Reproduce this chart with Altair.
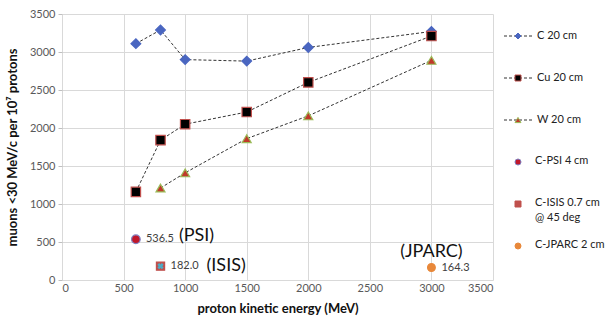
import altair as alt
import pandas as pd

# ---------------- data ----------------
energy_C = [600, 800, 1000, 1500, 2000, 3000]
muons_C = [3110, 3290, 2900, 2880, 3060, 3270]
energy_Cu = [600, 800, 1000, 1500, 2000, 3000]
muons_Cu = [1160, 1840, 2050, 2210, 2600, 3210]
energy_W = [800, 1000, 1500, 2000, 3000]
muons_W = [1210, 1410, 1860, 2160, 2890]

single_keys = ["C-PSI 4 cm", "C-ISIS", "C-JPARC 2 cm"]
single_energy = [600, 800, 3000]
single_muons = [536.5, 182.0, 164.3]
single_value_labels = ["536.5", "182.0", "164.3"]
single_site_labels = ["(PSI)", "(ISIS)", "(JPARC)"]

legend_keys = ["C 20 cm", "Cu 20 cm", "W 20 cm", "C-PSI 4 cm", "C-ISIS", "C-JPARC 2 cm"]
legend_texts = ["C 20 cm", "Cu 20 cm", "W 20 cm", "C-PSI 4 cm", "C-ISIS 0.7 cm\n@ 45 deg", "C-JPARC 2 cm"]
legend_has_line = [True, True, True, False, False, False]

x_ticks = [0, 500, 1000, 1500, 2000, 2500, 3000, 3500]
y_ticks = [0, 500, 1000, 1500, 2000, 2500, 3000, 3500]

# ---------------- styles ----------------
style_keys = legend_keys
style_shapes = ["diamond", "square", "triangle-up", "circle", "square", "circle"]
style_fills = ["#4a66c0", "#000000", "#c0392b", "#c0182a", "#c0504d", "#e8883a"]
style_strokes = ["#4a66c0", "#c0504d", "#9bbb59", "#8080c0", "#c0504d", "#e8883a"]
style_sizes = [95, 60, 80, 85, 70, 90]

FONT = "Lato"
W, H = 431, 266

rows = []
for name, xv, yv in [("C 20 cm", energy_C, muons_C), ("Cu 20 cm", energy_Cu, muons_Cu), ("W 20 cm", energy_W, muons_W)]:
    for a, b in zip(xv, yv):
        rows.append({"key": name, "energy": a, "muons": b})
series_df = pd.DataFrame(rows)
single_df = pd.DataFrame({"key": single_keys, "energy": single_energy, "muons": single_muons,
                          "vlabel": single_value_labels, "site": single_site_labels})
legend_df = pd.DataFrame({"key": legend_keys, "text": legend_texts, "idx": list(range(len(legend_keys))),
                          "line": legend_has_line})

xs = alt.Scale(domain=[0, 3500], nice=False)
ys = alt.Scale(domain=[0, 3500], nice=False)
X = alt.X("energy:Q", scale=xs, axis=alt.Axis(values=x_ticks, format="d", ticks=False,
                                               title="proton kinetic energy (MeV)", titlePadding=9))
Y = alt.Y("muons:Q", scale=ys, axis=alt.Axis(values=y_ticks, format="d", ticks=True, tickSize=4,
                                              tickColor="#bfbfbf", labelPadding=3,
                                              title="muons <30 MeV/c per 10\u2077 protons", titlePadding=10))

shape_s = alt.Scale(domain=style_keys, range=style_shapes)
fill_s = alt.Scale(domain=style_keys, range=style_fills)
stroke_s = alt.Scale(domain=style_keys, range=style_strokes)
size_s = alt.Scale(domain=style_keys, range=style_sizes)

lines = alt.Chart(series_df).mark_line(strokeDash=[3, 2], strokeWidth=1, color="#333333").encode(
    x=X, y=Y, detail="key:N")

def pts(df):
    return alt.Chart(df).mark_point(filled=True, opacity=1, strokeWidth=1.2).encode(
        x=X, y=Y,
        shape=alt.Shape("key:N", scale=shape_s, legend=None),
        fill=alt.Fill("key:N", scale=fill_s, legend=None),
        stroke=alt.Stroke("key:N", scale=stroke_s, legend=None),
        size=alt.Size("key:N", scale=size_s, legend=None),
    )

series_pts = pts(series_df)
single_pts = pts(single_df)
isis_cross = alt.Chart(single_df).transform_filter(alt.datum.key == "C-ISIS").mark_point(
    shape="cross", filled=True, size=40, angle=45, color="#4bacc6", opacity=1).encode(x=X, y=Y)

value_text = alt.Chart(single_df).mark_text(align="left", baseline="middle", dx=10, font=FONT,
                                            fontSize=11, color="#404040").encode(x=X, y=Y, text="vlabel:N")
psi = alt.Chart(single_df).transform_filter(alt.datum.key == "C-PSI 4 cm").mark_text(
    align="left", baseline="middle", dx=43, dy=-3, font=FONT, fontSize=18, color="#111111").encode(x=X, y=Y, text="site:N")
isis = alt.Chart(single_df).transform_filter(alt.datum.key == "C-ISIS").mark_text(
    align="left", baseline="middle", dx=46, dy=0, font=FONT, fontSize=18, color="#111111").encode(x=X, y=Y, text="site:N")
jparc = alt.Chart(single_df).transform_filter(alt.datum.key == "C-JPARC 2 cm").mark_text(
    align="center", baseline="middle", dx=0, dy=-16, font=FONT, fontSize=18, color="#111111").encode(x=X, y=Y, text="site:N")

main = alt.layer(lines, series_pts, single_pts, isis_cross, value_text, psi, isis, jparc)

# ---------------- legend ----------------
LY = alt.Y("idx:Q", scale=alt.Scale(domain=[0, 5], range=[22, 232]), axis=None)
leg_rule = alt.Chart(legend_df).transform_filter(alt.datum.line).mark_rule(
    strokeDash=[3, 2], strokeWidth=1, color="#333333").encode(x=alt.value(442), x2=alt.value(472), y=LY)
leg_pts = alt.Chart(legend_df).mark_point(filled=True, opacity=1, size=36, strokeWidth=1).encode(
    x=alt.value(456), y=LY,
    shape=alt.Shape("key:N", scale=shape_s, legend=None),
    fill=alt.Fill("key:N", scale=fill_s, legend=None),
    stroke=alt.Stroke("key:N", scale=stroke_s, legend=None),
)
leg_text_line = alt.Chart(legend_df).transform_filter(alt.datum.line).mark_text(
    align="left", baseline="middle", font=FONT, fontSize=11, color="#222222").encode(
    x=alt.value(475), y=LY, text="text:N")
leg_text_pt = alt.Chart(legend_df).transform_filter(~alt.datum.line).mark_text(
    align="left", baseline="top", dy=-7, lineBreak="\n", lineHeight=15, font=FONT, fontSize=11, color="#222222").encode(
    x=alt.value(473), y=LY, text="text:N")
legend = alt.layer(leg_rule, leg_pts, leg_text_line, leg_text_pt)

chart = alt.layer(main, legend).resolve_scale(x="independent", y="independent").properties(
    width=W, height=H,
    autosize=alt.AutoSizeParams(type="none"),
    padding={"left": 62, "top": 14, "right": 117, "bottom": 45},
    background="white",
).configure_view(stroke=None).configure_axis(
    grid=True, gridColor="#d9d9d9", gridWidth=1, domain=False,
    labelFont=FONT, labelFontSize=11, labelColor="#595959",
    titleFont=FONT, titleFontSize=13, titleFontWeight="bold", titleColor="#111111",
)

chart.save("out.html", embed_options={"renderer": "svg", "actions": False})
